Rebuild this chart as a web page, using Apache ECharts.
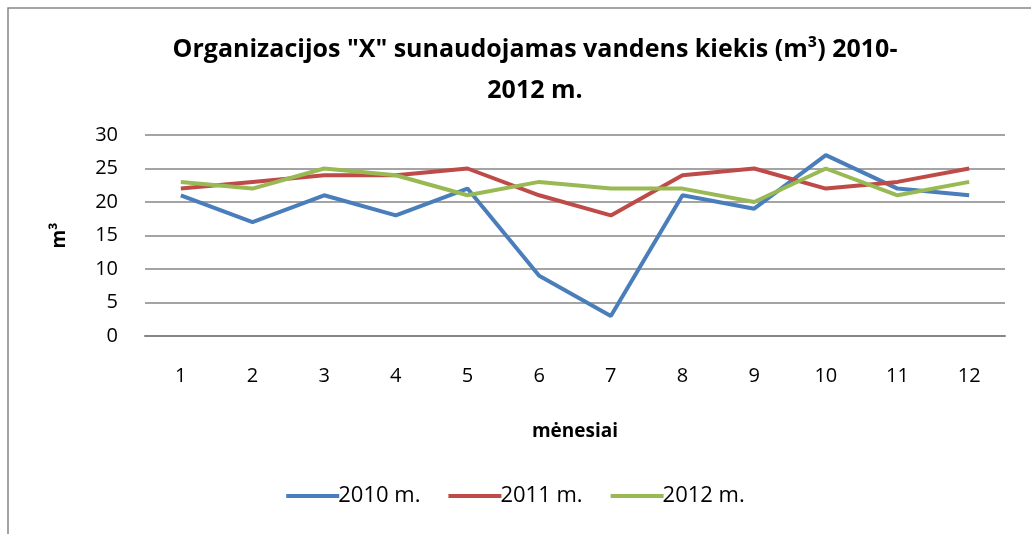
<!DOCTYPE html>
<html>
<head>
<meta charset="utf-8">
<script src="https://cdn.jsdelivr.net/npm/echarts@6/dist/echarts.min.js"></script>
<style>
  html, body { margin: 0; padding: 0; background: #fff; }
  #chart { width: 1031px; height: 534px; }
</style>
</head>
<body>
<div id="chart"></div>
<script>
(function(){
    var months = ['1', '2', '3', '4', '5', '6', '7', '8', '9', '10', '11', '12'];
    var y2010 = [21, 17, 21, 18, 22, 9, 3, 21, 19, 27, 22, 21];
    var y2011 = [22, 23, 24, 24, 25, 21, 18, 24, 25, 22, 23, 25];
    var y2012 = [23, 22, 25, 24, 21, 23, 22, 22, 20, 25, 21, 23];

    var font = '"Open Sans", sans-serif';
    var myChart = echarts.init(document.getElementById('chart'));

    function line(name, data, color) {
        return {
            name: name,
            type: 'line',
            data: data,
            symbol: 'none',
            lineStyle: { width: 4, color: color },
            itemStyle: { color: color }
        };
    }

    var option = {
        backgroundColor: '#fff',
        animation: false,
        textStyle: { fontFamily: font },
        graphic: [{
            type: 'rect',
            shape: { x: 8, y: 8, width: 1040, height: 560 },
            style: { fill: 'none', stroke: '#868686', lineWidth: 1.5 },
            silent: true
        }],
        title: {
            text: 'Organizacijos "X" sunaudojamas vandens kiekis (m³) 2010-\n2012 m.',
            left: 530,
            textAlign: 'center',
            top: 24,
            textStyle: { fontFamily: font, fontSize: 25, fontWeight: 'bold', color: '#000', lineHeight: 41 }
        },
        legend: {
            bottom: 22,
            left: 'center',
            itemWidth: 53,
            itemHeight: 4,
            itemGap: 28,
            icon: 'rect',
            textStyle: { fontFamily: font, fontSize: 22, color: '#000', padding: [0, 0, 0, -6] },
            data: ['2010 m.', '2011 m.', '2012 m.']
        },
        grid: { left: 145, right: 26, top: 135, bottom: 198 },
        xAxis: {
            type: 'category',
            data: months,
            boundaryGap: true,
            name: 'mėnesiai',
            nameLocation: 'middle',
            nameGap: 86,
            nameTextStyle: { fontFamily: font, fontSize: 19, fontWeight: 'bold', color: '#000' },
            axisLine: { lineStyle: { color: '#868686', width: 2 } },
            axisTick: { show: false },
            axisLabel: { margin: 30, fontSize: 20, color: '#000', fontFamily: font }
        },
        yAxis: {
            type: 'value',
            min: 0,
            max: 30,
            interval: 5,
            name: 'm³',
            nameLocation: 'middle',
            nameGap: 76,
            nameRotate: 90,
            nameTextStyle: { fontFamily: font, fontSize: 19, fontWeight: 'bold', color: '#000' },
            axisLine: { show: false },
            axisTick: { show: false },
            axisLabel: { margin: 27, fontSize: 20, color: '#000', fontFamily: font },
            splitLine: { lineStyle: { color: '#868686', width: 1.5 } }
        },
        series: [
            line('2010 m.', y2010, '#4a7ebb'),
            line('2011 m.', y2011, '#be4b48'),
            line('2012 m.', y2012, '#98b954')
        ]
    };

    myChart.setOption(option);
})()
</script>
</body>
</html>
